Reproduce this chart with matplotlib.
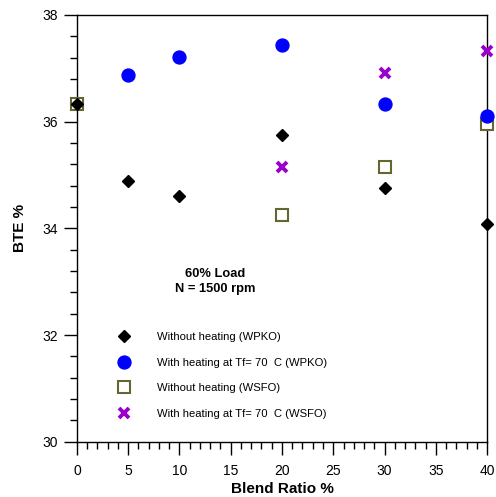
import numpy as np
import matplotlib.pyplot as plt
from matplotlib.ticker import MultipleLocator

plt.rcParams['font.family'] = ['Liberation Sans', 'DejaVu Sans']

# blend ratio (%) and BTE (%) for each series
x_wpko = [0, 5, 10, 20, 30, 40]
bte_wpko = [36.33, 34.89, 34.61, 35.75, 34.76, 34.09]
x_wpko_h = [5, 10, 20, 30, 40]
bte_wpko_h = [36.88, 37.21, 37.44, 36.33, 36.11]
x_wsfo = [0, 20, 30, 40]
bte_wsfo = [36.33, 34.25, 35.15, 35.96]
x_wsfo_h = [20, 30, 40]
bte_wsfo_h = [35.15, 36.91, 37.33]

labels = ['Without heating (WPKO)', 'With heating at Tf= 70  C (WPKO)',
          'Without heating (WSFO)', 'With heating at Tf= 70  C (WSFO)']

fig = plt.figure(figsize=(4.96, 4.97), dpi=100)
ax = fig.add_axes([0.155, 0.111, 0.827, 0.859])

h1, = ax.plot(x_wpko, bte_wpko, ls='none', marker='D', ms=6.3, color='black', zorder=4, clip_on=False)
h2, = ax.plot(x_wpko_h, bte_wpko_h, ls='none', marker='o', ms=9.3, color='#0000ff', zorder=4, clip_on=False)
h3, = ax.plot(x_wsfo, bte_wsfo, ls='none', marker='s', ms=8.3, mfc='white', mec='#666633', mew=1.5, zorder=3, clip_on=False)
h4, = ax.plot(x_wsfo_h, bte_wsfo_h, ls='none', marker='x', ms=7.5, mew=2.8, color='#9900cc', zorder=5, clip_on=False)

ax.set_xlim(0, 40)
ax.set_ylim(30, 38)
ax.xaxis.set_major_locator(MultipleLocator(5))
ax.xaxis.set_minor_locator(MultipleLocator(1))
ax.yaxis.set_major_locator(MultipleLocator(2))
ax.yaxis.set_minor_locator(MultipleLocator(0.4))
ax.tick_params(which='major', direction='out', length=9.5, width=1, labelsize=10, pad=4)
ax.tick_params(axis='x', which='major', pad=6.5)
ax.tick_params(which='minor', direction='out', length=5, width=1)
for s in ax.spines.values():
    s.set_linewidth(1)

ax.set_xlabel('Blend Ratio %', fontsize=11, fontweight='bold', labelpad=3)
ax.set_ylabel('BTE %', fontsize=11, fontweight='bold', labelpad=11)

ax.text(13.5, 33.0, '60% Load\nN = 1500 rpm', ha='center', va='center',
        fontsize=9.3, fontweight='bold', linespacing=1.3)

ax.legend([h1, h2, h3, h4], labels, loc='upper left', bbox_to_anchor=(0.085, 0.27),
          frameon=False, fontsize=8.1, handlelength=1.2, handletextpad=2.3,
          labelspacing=1.38, borderpad=0)

fig.savefig('out.png', dpi=100)
